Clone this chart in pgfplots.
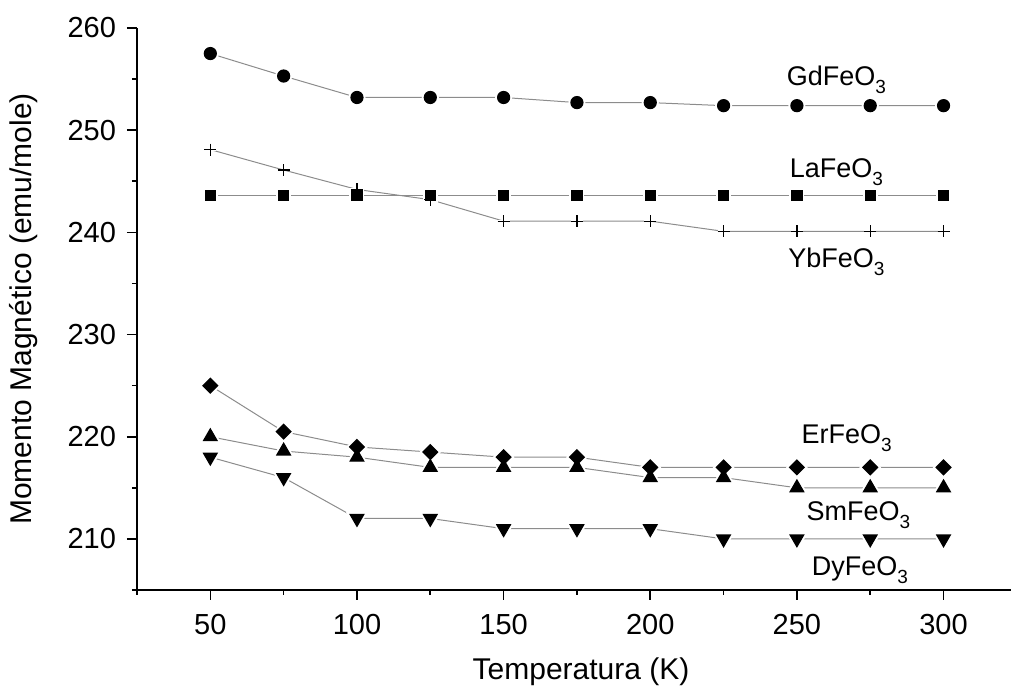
\documentclass[border=0pt]{standalone}
\usepackage{fontspec}
\setmainfont{Liberation Sans}
\usepackage{pgfplots}
\pgfplotsset{compat=1.18}
\usepackage{pgfplotstable}
\usetikzlibrary{calc}

% Magnetic moment of the orthoferrites versus temperature
\pgfplotstableread{
T   Gd    La    Yb    Er    Sm    Dy
50  257.5 243.6 248.1 225.0 220.0 218.0
75  255.3 243.6 246.1 220.5 218.6 216.0
100 253.2 243.6 244.2 219.0 218.0 212.0
125 253.2 243.6 243.2 218.5 217.0 212.0
150 253.2 243.6 241.1 218.0 217.0 211.0
175 252.7 243.6 241.1 218.0 217.0 211.0
200 252.7 243.6 241.1 217.0 216.0 211.0
225 252.4 243.6 240.1 217.0 216.0 210.0
250 252.4 243.6 240.1 217.0 215.0 210.0
275 252.4 243.6 240.1 217.0 215.0 210.0
300 252.4 243.6 240.1 217.0 215.0 210.0
}\moment

\newcommand{\sub}[1]{\raisebox{-4pt}{\fontsize{9.5}{9.5}\selectfont #1}}

\pgfplotsset{
  conn/.style={color=black!45, line width=0.5pt, no markers},
  mGd/.style={mark=*, mark size=3pt},
  mLa/.style={mark=square*, mark size=2.5pt},
  mYb/.style={mark=+, mark size=3pt},
  mEr/.style={mark=square*, mark size=2.6pt, mark options={rotate=45}},
  mSm/.style={mark=triangle*, mark size=3.9pt},
  mDy/.style={mark=triangle*, mark size=3.9pt, mark options={rotate=180}},
  halo/.style={only marks, draw=white, fill=white, line width=2.5pt},
  dot/.style={only marks, draw=black, fill=black, line width=0.6pt},
}

\begin{document}
\begin{tikzpicture}
\begin{axis}[
  name=ax,
  scale only axis,
  width=437pt, height=281pt,
  xmin=25, xmax=323, ymin=205, ymax=260,
  axis lines=left,
  axis line style={-, line width=1pt},
  xtick={50,100,...,300},
  ytick={210,220,...,260},
  minor xtick={25,75,...,325},
  minor ytick={205,215,...,255},
  tick align=outside,
  major tick length=5pt,
  minor tick length=2.5pt,
  tick style={black, line width=0.8pt},
  /pgf/number format/assume math mode=true,
  ticklabel style={font=\fontsize{14.5}{16}\selectfont},
  yticklabel style={xshift=-2pt},
  xticklabel style={yshift=-3.5pt},
  xlabel={Temperatura (K)},
  ylabel={Momento Magnético (emu/mole)},
  label style={font=\fontsize{15}{17}\selectfont},
  xlabel style={at={(axis description cs:0.508,-0.145)}, anchor=center},
  ylabel style={at={(axis description cs:-0.13,0.5)}, anchor=center, rotate=0},
  clip=false,
]
% connecting lines
\addplot[conn] table[x=T, y=Gd] {\moment};
\addplot[conn] table[x=T, y=La] {\moment};
\addplot[conn] table[x=T, y=Yb] {\moment};
\addplot[conn] table[x=T, y=Er] {\moment};
\addplot[conn] table[x=T, y=Sm] {\moment};
\addplot[conn] table[x=T, y=Dy] {\moment};
% white gaps around the symbols
\addplot[halo, mGd] table[x=T, y=Gd] {\moment};
\addplot[halo, mLa] table[x=T, y=La] {\moment};
\addplot[halo, mYb, line width=1.2pt] table[x=T, y=Yb] {\moment};
\addplot[halo, mEr] table[x=T, y=Er] {\moment};
\addplot[halo, mSm] table[x=T, y=Sm] {\moment};
\addplot[halo, mDy] table[x=T, y=Dy] {\moment};
% symbols
\addplot[dot, mGd] table[x=T, y=Gd] {\moment};
\addplot[dot, mLa] table[x=T, y=La] {\moment};
\addplot[dot, mYb] table[x=T, y=Yb] {\moment};
\addplot[dot, mEr] table[x=T, y=Er] {\moment};
\addplot[dot, mSm] table[x=T, y=Sm] {\moment};
\addplot[dot, mDy] table[x=T, y=Dy] {\moment};
% compound names
\begin{scope}[every node/.style={font=\fontsize{13.5}{15}\selectfont, inner sep=0pt}]
\node at (axis cs:263.5,254.9) {GdFeO\sub{3}};
\node at (axis cs:263.5,245.9) {LaFeO\sub{3}};
\node at (axis cs:263.5,237.1) {YbFeO\sub{3}};
\node at (axis cs:267.0,219.9) {ErFeO\sub{3}};
\node at (axis cs:271.0,212.3) {SmFeO\sub{3}};
\node at (axis cs:271.5,206.9) {DyFeO\sub{3}};
\end{scope}
\end{axis}
\pgfresetboundingbox
\path[use as bounding box] ($(ax.south west)+(-68.5pt,-52pt)$) rectangle ($(ax.north east)+(0pt,14pt)$);
\end{tikzpicture}
\end{document}
